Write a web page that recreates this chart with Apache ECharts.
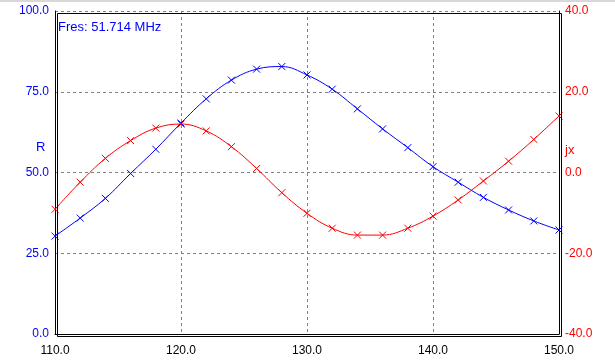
<!DOCTYPE html>
<html><head><meta charset="utf-8">
<script src="https://cdn.jsdelivr.net/npm/echarts@6/dist/echarts.min.js"></script>
<style>html,body{margin:0;padding:0;background:#fff;}#c{width:615px;height:364px;}</style>
</head><body><div id="c"></div>
<script>
const freqs = [110,112,114,116,118,120,122,124,126,128,130,132,134,136,138,140,142,144,146,148,150];
const rValues = [30.3,35.9,42.0,49.7,57.2,65.3,72.8,78.6,82.0,82.8,80.2,75.8,69.7,63.5,57.7,51.8,47.0,42.3,38.4,35.0,32.2];
const jxValues = [-9.1,-2.4,3.5,7.9,11.0,12.0,10.3,6.4,1.0,-5.0,-10.1,-13.8,-15.5,-15.5,-13.8,-10.8,-6.8,-2.1,2.8,8.2,14.0];
const annotation = 'Fres: 51.714 MHz';

const font = 'Arial, "Liberation Sans", sans-serif';
const xMark = 'path://M0,0L10,10M10,0L0,10';
const chart = echarts.init(document.getElementById('c'), null, {renderer:'canvas'});
const grid = {left:55, right:56, top:11, bottom:30};
const split = {show:true, lineStyle:{color:'#808080', type:[3,3], width:1}};
chart.setOption({
  animation:false,
  backgroundColor:'#fff',
  grid: grid,
  graphic:[
    {type:'rect', left:0, top:0, shape:{width:615, height:2}, style:{fill:'#d8d8d8'}},
    {type:'rect', left:55, top:11, shape:{width:504, height:323}, style:{fill:'none', stroke:'#000', lineWidth:1}, z:10},
    {type:'text', left:58, top:21, style:{text:annotation, fill:'#0000ff', font:'13px '+font}},
    {type:'text', left:36, top:141, style:{text:'R', fill:'#0000ff', font:'13px '+font}},
    {type:'text', left:565, top:144, style:{text:'jx', fill:'#ff0000', font:'13px '+font}}
  ],
  xAxis:{type:'value', min:110, max:150, interval:10,
    axisLine:{show:true, lineStyle:{color:'#000'}}, axisTick:{show:false},
    axisLabel:{color:'#000', fontSize:12, fontFamily:font, margin:11, formatter:v=>v.toFixed(1)},
    splitLine:split},
  yAxis:[
    {type:'value', min:0, max:100, interval:25, position:'left',
     axisLine:{show:true, lineStyle:{color:'#000'}}, axisTick:{show:false},
     axisLabel:{color:'#0000ff', fontSize:12, fontFamily:font, margin:6, formatter:v=>v.toFixed(1)},
     splitLine:split},
    {type:'value', min:-40, max:40, interval:20, position:'right',
     axisLine:{show:true, lineStyle:{color:'#000'}}, axisTick:{show:false},
     axisLabel:{color:'#ff0000', fontSize:12, fontFamily:font, margin:6, formatter:v=>v.toFixed(1)},
     splitLine:{show:false}}
  ],
  series:[
    {type:'line', yAxisIndex:0, smooth:0.4, data:freqs.map((f,i)=>[f,rValues[i]]),
     lineStyle:{color:'#0000ff', width:1}, symbol:xMark, symbolSize:7, showAllSymbol:true,
     itemStyle:{color:'none', borderColor:'#0000ff', borderWidth:1}},
    {type:'line', yAxisIndex:1, smooth:0.4, data:freqs.map((f,i)=>[f,jxValues[i]]),
     lineStyle:{color:'#ff0000', width:1}, symbol:xMark, symbolSize:7, showAllSymbol:true,
     itemStyle:{color:'none', borderColor:'#ff0000', borderWidth:1}}
  ]
});
</script></body></html>
